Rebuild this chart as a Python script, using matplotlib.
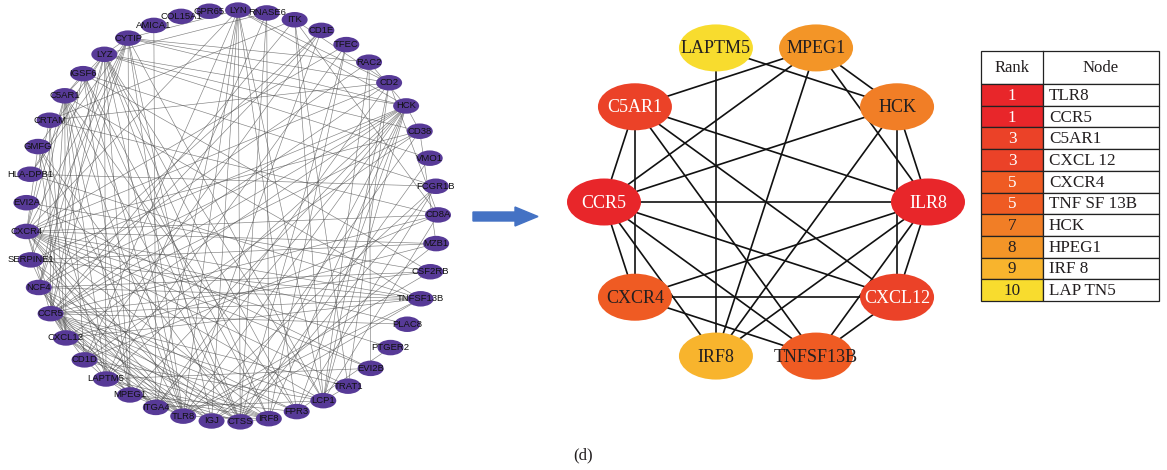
import numpy as np
import matplotlib
matplotlib.use('Agg')
import matplotlib.pyplot as plt
from matplotlib.patches import Ellipse, Rectangle, FancyArrow

# ---- left: full PPI network, circular layout, clockwise from top ----
genes = ['LYN', 'RNASE6', 'ITK', 'CD1E', 'TFEC', 'RAC2', 'CD2', 'HCK', 'CD38',
         'VMO1', 'FCGR1B', 'CD8A', 'MZB1', 'CSF2RB', 'TNFSF13B', 'PLAC8',
         'PTGER2', 'EVI2B', 'TRAT1', 'LCP1', 'FPR3', 'IRF8', 'CTSS', 'IGJ',
         'TLR8', 'ITGA4', 'MPEG1', 'LAPTM5', 'CD1D', 'CXCL12', 'CCR5', 'NCF4',
         'SERPINE1', 'CXCR4', 'EVI2A', 'HLA-DPB1', 'GMFG', 'CRTAM', 'C5AR1',
         'IGSF6', 'LYZ', 'CYTIP', 'AMICA1', 'COL15A1', 'GPR65']

ppi_edges = [
    # hub genes among themselves
    'LAPTM5 HCK', 'LAPTM5 IRF8', 'MPEG1 C5AR1', 'MPEG1 CCR5', 'MPEG1 IRF8',
    'MPEG1 HCK', 'MPEG1 TLR8', 'HCK CCR5', 'HCK IRF8', 'HCK CXCL12', 'HCK TLR8',
    'C5AR1 TLR8', 'C5AR1 CXCL12', 'C5AR1 TNFSF13B', 'C5AR1 CCR5', 'C5AR1 CXCR4',
    'CCR5 TLR8', 'CCR5 CXCL12', 'CCR5 TNFSF13B', 'CCR5 IRF8', 'CCR5 CXCR4',
    'TLR8 CXCR4', 'TLR8 IRF8', 'TLR8 TNFSF13B', 'TLR8 CXCL12', 'CXCR4 CXCL12',
    'CXCR4 TNFSF13B', 'CXCL12 TNFSF13B',
    # the rest
    'LYN TLR8', 'LYN IGJ', 'LYN CTSS', 'LYN CD1D', 'LYN CXCR4', 'LYN HCK',
    'LYN CD2', 'LYN FPR3', 'LYN ITGA4', 'LYN LCP1', 'LYN CYTIP',
    'RNASE6 LYZ', 'RNASE6 CTSS', 'RNASE6 IRF8', 'RNASE6 LAPTM5',
    'ITK CD2', 'ITK LCP1', 'ITK TRAT1', 'ITK CCR5', 'ITK CD8A', 'ITK CRTAM',
    'CD1E CD1D', 'CD1E CCR5', 'CD1E TLR8', 'CD1E NCF4',
    'TFEC IRF8', 'TFEC LAPTM5', 'TFEC CXCR4', 'TFEC CTSS',
    'RAC2 EVI2B', 'RAC2 NCF4', 'RAC2 LCP1', 'RAC2 CYTIP', 'RAC2 HCK',
    'CD2 CD8A', 'CD2 LCP1', 'CD2 CCR5', 'CD2 CXCR4', 'CD2 TRAT1', 'CD2 CRTAM',
    'CD2 CYTIP', 'CD2 ITGA4',
    'HCK LYZ', 'HCK NCF4', 'HCK FPR3', 'HCK CTSS', 'HCK LCP1', 'HCK SERPINE1',
    'HCK CYTIP', 'HCK ITGA4', 'HCK CD38',
    'CD38 CXCR4', 'CD38 CCR5', 'CD38 MZB1', 'CD38 IGJ', 'CD38 CD1D', 'CD38 LYZ',
    'VMO1 LYZ', 'VMO1 CTSS',
    'FCGR1B HLA-DPB1', 'FCGR1B TLR8', 'FCGR1B FPR3', 'FCGR1B CTSS', 'FCGR1B IGSF6',
    'CD8A CRTAM', 'CD8A CCR5', 'CD8A CXCR4', 'CD8A LCP1', 'CD8A CD1D',
    'MZB1 IGJ', 'MZB1 CXCR4', 'MZB1 CXCL12', 'MZB1 SERPINE1',
    'CSF2RB NCF4', 'CSF2RB CCR5', 'CSF2RB IGSF6', 'CSF2RB EVI2A', 'CSF2RB TLR8',
    'TNFSF13B SERPINE1', 'TNFSF13B NCF4', 'TNFSF13B IGJ', 'TNFSF13B HLA-DPB1',
    'PLAC8 CCR5', 'PLAC8 CXCR4', 'PTGER2 CXCR4', 'PTGER2 FPR3',
    'EVI2B EVI2A', 'EVI2B CXCR4', 'EVI2B LAPTM5',
    'TRAT1 CCR5', 'TRAT1 CXCR4', 'TRAT1 LCP1',
    'LCP1 CYTIP', 'LCP1 CCR5', 'LCP1 CXCR4', 'LCP1 ITGA4', 'LCP1 LYZ', 'LCP1 CD1D',
    'FPR3 C5AR1', 'FPR3 NCF4', 'FPR3 LYZ', 'FPR3 CCR5', 'FPR3 MPEG1',
    'IRF8 CXCR4', 'IRF8 LYZ', 'IRF8 CD1D', 'IRF8 IGSF6', 'IRF8 CXCL12', 'IRF8 CTSS',
    'CTSS LYZ', 'CTSS C5AR1', 'CTSS LAPTM5', 'CTSS IGSF6', 'CTSS SERPINE1',
    'CTSS NCF4', 'CTSS CCR5', 'CTSS MPEG1', 'CTSS GMFG',
    'IGJ CXCR4', 'IGJ CXCL12', 'IGJ CCR5', 'IGJ CYTIP',
    'TLR8 LYZ', 'TLR8 IGSF6', 'TLR8 LAPTM5', 'TLR8 NCF4', 'TLR8 GMFG',
    'TLR8 SERPINE1', 'TLR8 CYTIP',
    'ITGA4 AMICA1', 'ITGA4 CCR5', 'ITGA4 CXCR4', 'ITGA4 CXCL12',
    'MPEG1 LYZ', 'MPEG1 IGSF6', 'MPEG1 LAPTM5', 'MPEG1 CYTIP', 'MPEG1 NCF4',
    'LAPTM5 LYZ', 'LAPTM5 CD1D', 'LAPTM5 C5AR1', 'LAPTM5 NCF4', 'LAPTM5 GMFG',
    'CD1D C5AR1', 'CD1D CCR5',
    'CXCL12 SERPINE1', 'CXCL12 CRTAM', 'CXCL12 GMFG',
    'CCR5 CRTAM', 'CCR5 LYZ', 'CCR5 CYTIP',
    'NCF4 LYZ', 'NCF4 CYTIP', 'NCF4 IGSF6',
    'SERPINE1 C5AR1', 'SERPINE1 CYTIP',
    'CXCR4 CYTIP', 'CXCR4 GMFG', 'CXCR4 CRTAM',
    'HLA-DPB1 CYTIP', 'HLA-DPB1 LYZ', 'GMFG LYZ',
    'C5AR1 LYZ', 'C5AR1 IGSF6', 'CYTIP LYZ',
]

# ---- right: top-10 hub genes, clockwise from top-left ----
hubs = ['LAPTM5', 'MPEG1', 'HCK', 'ILR8', 'CXCL12', 'TNFSF13B', 'IRF8',
        'CXCR4', 'CCR5', 'C5AR1']
hub_rank = [10, 8, 7, 1, 3, 5, 9, 5, 1, 3]
hub_edges = [
    'LAPTM5 HCK', 'LAPTM5 IRF8', 'MPEG1 C5AR1', 'MPEG1 CCR5', 'MPEG1 IRF8',
    'MPEG1 HCK', 'MPEG1 ILR8', 'HCK CCR5', 'HCK IRF8', 'HCK CXCL12', 'HCK ILR8',
    'C5AR1 ILR8', 'C5AR1 CXCL12', 'C5AR1 TNFSF13B', 'C5AR1 CCR5', 'C5AR1 CXCR4',
    'CCR5 ILR8', 'CCR5 CXCL12', 'CCR5 TNFSF13B', 'CCR5 IRF8', 'CCR5 CXCR4',
    'ILR8 CXCR4', 'ILR8 IRF8', 'ILR8 TNFSF13B', 'ILR8 CXCL12',
    'CXCR4 CXCL12', 'CXCR4 TNFSF13B', 'CXCL12 TNFSF13B',
]

# ---- table ----
table_rank = ['1', '1', '3', '3', '5', '5', '7', '8', '9', '10']
table_node = ['TLR8', 'CCR5', 'C5AR1', 'CXCL 12', 'CXCR4', 'TNF SF 13B',
              'HCK', 'HPEG1', 'IRF 8', 'LAP TN5']

rank_color = {1: '#e8262a', 3: '#eb4228', 5: '#ef5b23', 7: '#f17e26',
              8: '#f39527', 9: '#f8b42d', 10: '#f8dc2e'}

W, H = 1167, 470
fig = plt.figure(figsize=(W / 100, H / 100), dpi=100)
ax = fig.add_axes([0, 0, 1, 1])
ax.set_xlim(0, W)
ax.set_ylim(H, 0)
ax.axis('off')

serif = 'Liberation Serif'
sans = 'Liberation Sans'

# left network
cx, cy, r = 232, 216, 206
ang = np.radians(88.3 - np.arange(len(genes)) * 360 / len(genes))
pos = {g: (cx + r * np.cos(a), cy - r * np.sin(a)) for g, a in zip(genes, ang)}
for e in ppi_edges:
    a, b = e.split()
    ax.plot([pos[a][0], pos[b][0]], [pos[a][1], pos[b][1]], color='#4a4a4a',
            lw=0.45, alpha=0.7, zorder=1)
for g in genes:
    x, y = pos[g]
    ax.add_patch(Ellipse((x, y), 26, 15.5, facecolor='#573a97', edgecolor='none', zorder=2))
    ax.text(x, y, g, fontsize=6.8, family=sans, color='#111111',
            ha='center', va='center', zorder=3)

# arrow
ax.add_patch(FancyArrow(473, 216.5, 65, 0, width=9, head_width=19, head_length=23,
                        length_includes_head=True, color='#4472c4', zorder=2))

# right network
hx, hy, hr = 766, 202, 162
hang = np.radians(108 - np.arange(len(hubs)) * 36)
hpos = {g: (hx + hr * np.cos(a), hy - hr * np.sin(a)) for g, a in zip(hubs, hang)}
for e in hub_edges:
    a, b = e.split()
    ax.plot([hpos[a][0], hpos[b][0]], [hpos[a][1], hpos[b][1]], color='#111111',
            lw=1.2, zorder=1)
for g, rk in zip(hubs, hub_rank):
    x, y = hpos[g]
    ax.add_patch(Ellipse((x, y), 74, 47, facecolor=rank_color[rk], edgecolor='none', zorder=2))
    ax.text(x, y + 1, g, fontsize=13, family=serif,
            color='white' if rk <= 3 else '#231f20',
            ha='center', va='center', zorder=3)

# table
tx0, tx1, tx2 = 981, 1043, 1159
ty0, ty1, rh = 51, 84, 21.7
ax.add_patch(Rectangle((tx0, ty0), tx2 - tx0, ty1 - ty0, facecolor='white',
                       edgecolor='#222222', lw=0.9, zorder=2))
ax.plot([tx1, tx1], [ty0, ty1], color='#222222', lw=0.9, zorder=3)
ax.text((tx0 + tx1) / 2, (ty0 + ty1) / 2 + 1, 'Rank', fontsize=12, family=serif,
        color='#231f20', ha='center', va='center', zorder=4)
ax.text((tx1 + tx2) / 2, (ty0 + ty1) / 2 + 1, 'Node', fontsize=12, family=serif,
        color='#231f20', ha='center', va='center', zorder=4)
for i, (rk, nd) in enumerate(zip(table_rank, table_node)):
    y0 = ty1 + i * rh
    ax.add_patch(Rectangle((tx0, y0), tx1 - tx0, rh, facecolor=rank_color[int(rk)],
                           edgecolor='#222222', lw=0.9, zorder=2))
    ax.add_patch(Rectangle((tx1, y0), tx2 - tx1, rh, facecolor='white',
                           edgecolor='#222222', lw=0.9, zorder=2))
    ax.text((tx0 + tx1) / 2, y0 + rh / 2 + 1, rk, fontsize=12.3, family=serif,
            color='white' if int(rk) <= 5 else '#231f20',
            ha='center', va='center', zorder=4)
    ax.text(tx1 + 6, y0 + rh / 2 + 1, nd, fontsize=12.3, family=serif,
            color='#231f20', ha='left', va='center', zorder=4)

ax.text(583, 455, '(d)', fontsize=12, family=serif, color='#231f20',
        ha='center', va='center')

fig.savefig('out.png', dpi=100)
